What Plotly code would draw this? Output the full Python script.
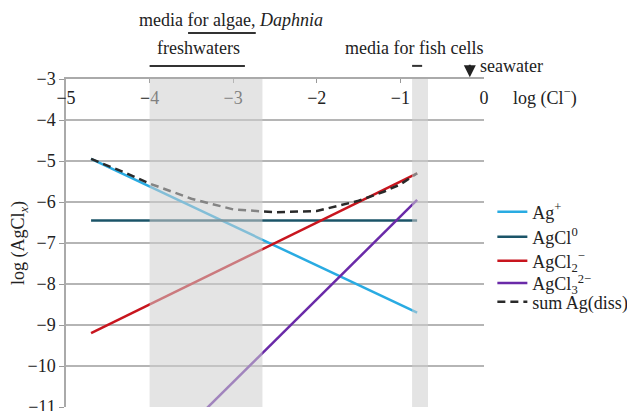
import plotly.graph_objects as go

# ---- data ----
x_ends = [-4.7, -0.8]
ag_plus = [-4.95, -8.7]
agcl0 = [-6.45, -6.45]
agcl2 = [-9.2, -5.3]
agcl3_x = [-3.4, -0.8]
agcl3 = [-11.2, -5.95]
sum_x = [-4.7, -4.3, -4.0, -3.5, -3.0, -2.5, -2.0, -1.5, -1.2, -1.0, -0.8]
sum_y = [-4.95, -5.28, -5.55, -5.92, -6.18, -6.25, -6.22, -5.97, -5.75, -5.57, -5.3]

x_ticks = [-5, -4, -3, -2, -1, 0]
x_tick_labels = ["\u22125", "\u22124", "\u22123", "\u22122", "\u22121", "0"]
y_ticks = [-3, -4, -5, -6, -7, -8, -9, -10, -11]
y_tick_labels = ["\u2212" + str(-v) for v in y_ticks]

band_fresh = [-4.0, -2.65]
band_fish = [-0.86, -0.67]
bar_algae = [-3.54, -2.73]
bar_fresh = [-4.0, -2.86]
bar_fish = [-0.86, -0.74]
seawater_x = -0.17

FONT = "Liberation Serif"
FS = 18
# page body has an 8px margin: figure is shrunk/shifted to compensate
OFF = 8

series = [
    ("Ag<sup>+</sup>", x_ends, ag_plus, "#29abe2", "solid", 0.594),
    ("AgCl<sup>0</sup>", x_ends, agcl0, "#1b5468", "solid", 0.518),
    ("AgCl<sub>2</sub><sup>\u2212</sup>", x_ends, agcl2, "#c8151e", "solid", 0.445),
    ("AgCl<sub>3</sub><sup>2\u2212</sup>", agcl3_x, agcl3, "#6a2aa8", "solid", 0.377),
    ("sum Ag(diss)", sum_x, sum_y, "#2a2a2a", "8px,5px", 0.320),
]

fig = go.Figure()
legend_layout = {}
for i, (name, xs, ys, col, dash, ly) in enumerate(series):
    key = "legend" if i == 0 else f"legend{i + 1}"
    fig.add_trace(go.Scatter(x=xs, y=ys, mode="lines", name=name,
                             line=dict(color=col, width=2.5, dash=dash), legend=key))
    legend_layout[key] = dict(x=1.02, y=ly, xanchor="left", yanchor="middle",
                              font=dict(size=FS, family=FONT), itemwidth=30,
                              bgcolor="rgba(0,0,0,0)")

shapes = []
for b in (band_fresh, band_fish):
    shapes.append(dict(type="rect", xref="x", yref="paper", x0=b[0], x1=b[1], y0=0, y1=1,
                       fillcolor="rgba(205,205,205,0.55)", line=dict(width=0), layer="above"))
for b, yp in ((bar_algae, 1.140), (bar_fresh, 1.040), (bar_fish, 1.040)):
    shapes.append(dict(type="line", xref="x", yref="paper", x0=b[0], x1=b[1], y0=yp, y1=yp,
                       line=dict(color="#333333", width=2)))

tf = dict(size=FS, family=FONT, color="#222")
annotations = [
    dict(text="media for algae, <i>Daphnia</i>", x=-3.03, y=1.18, xref="x", yref="paper",
         yanchor="middle", showarrow=False, font=tf),
    dict(text="freshwaters", x=-3.42, y=1.095, xref="x", yref="paper",
         yanchor="middle", showarrow=False, font=tf),
    dict(text="media for fish cells", x=-0.84, y=1.095, xref="x", yref="paper",
         yanchor="middle", showarrow=False, font=tf),
    dict(text="seawater", x=-0.07, y=1.04, xref="x", yref="paper", xanchor="left",
         yanchor="middle", showarrow=False, font=tf),
    dict(text="", x=seawater_x, y=1.005, xref="x", yref="paper", showarrow=True,
         ax=0, ay=-14, arrowhead=2, arrowsize=1.2, arrowwidth=2, arrowcolor="#222"),
    dict(text="log (Cl<sup>\u2212</sup>)", x=1.065, y=0.945, xref="paper", yref="paper",
         xanchor="left", yanchor="middle", showarrow=False, font=tf),
]

fig.update_layout(
    width=635 - OFF, height=411 - OFF,
    margin=dict(l=66 - OFF, r=151, t=79 - OFF, b=4, autoexpand=False),
    paper_bgcolor="white", plot_bgcolor="white",
    font=dict(family=FONT, size=FS, color="#222"),
    showlegend=True,
    shapes=shapes,
    annotations=annotations,
    **legend_layout,
)
fig.update_xaxes(range=[-5, 0], side="top", tickvals=x_ticks, ticktext=x_tick_labels,
                 ticklabelposition="outside", ticklabelstandoff=-34, ticklabeloverflow="allow",
                 ticks="inside", ticklen=4, tickcolor="#999",
                 showgrid=False, zeroline=False, showline=True, linecolor="#aaa", linewidth=1.5,
                 automargin=False, tickfont=dict(size=FS, family=FONT))
fig.update_yaxes(range=[-11, -3], tickvals=y_ticks, ticktext=y_tick_labels,
                 ticks="outside", ticklen=5, tickcolor="#999", ticklabeloverflow="allow",
                 showgrid=True, gridcolor="#b5b5b5", gridwidth=1.5, zeroline=False,
                 showline=True, linecolor="#aaa", linewidth=1.5, automargin=False,
                 title=dict(text="log (AgCl<sub><i>x</i></sub>)", standoff=6,
                            font=dict(size=FS, family=FONT)),
                 tickfont=dict(size=FS, family=FONT))

fig.write_html("out.html")
